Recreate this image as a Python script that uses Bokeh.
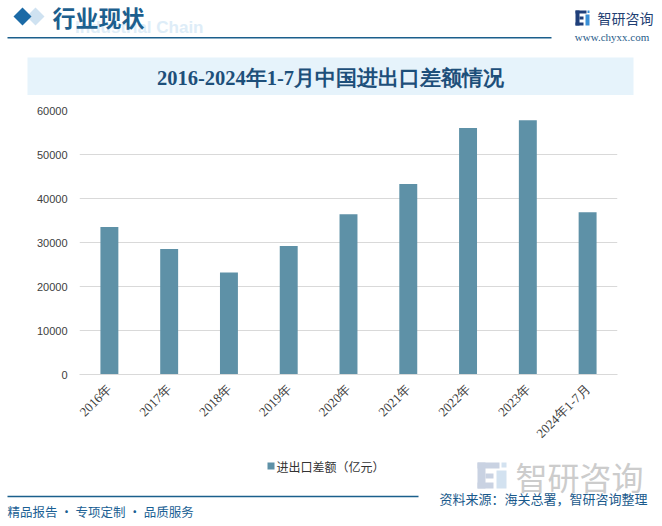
import math
from bokeh.plotting import figure
from bokeh.layouts import column, row
from bokeh.models import ColumnDataSource, Range1d, FixedTicker
from bokeh.core.properties import value
from bokeh.embed import file_html
from bokeh.resources import INLINE

# ---- data ----
categories = ["2016年", "2017年", "2018年", "2019年", "2020年", "2021年",
              "2022年", "2023年", "2024年1-7月"]
balance = [33500, 28500, 23200, 29200, 36400, 43300, 56000, 57800, 36900]
y_ticks = [0, 10000, 20000, 30000, 40000, 50000, 60000]
series_name = "进出口差额（亿元）"
title_text = "2016-2024年1-7月中国进出口差额情况"
header_text = "行业现状"
header_watermark = "Industrial Chain"
brand = "智研咨询"
site = "www.chyxx.com"
source_text = "资料来源：海关总署，智研咨询整理"
slogan = "精品报告 · 专项定制 · 品质服务"

W = 662
HEADER_H = 95
MAIN_TOP, MAIN_BOTTOM = 95, 450
TOTAL_H = 526

CJK = "Noto Sans CJK SC"
SERIF = "Liberation Serif"
SANS = "Liberation Sans"
BAR_COLOR = "#5e91a7"


def canvas_fig(y0, y1):
    f = figure(width=W, height=y1 - y0, x_range=Range1d(0, W), y_range=Range1d(y1, y0),
               output_backend="svg", toolbar_location=None, tools="",
               x_axis_location=None, y_axis_location=None, min_border=0,
               min_border_left=0, min_border_right=0, min_border_top=0,
               min_border_bottom=0)
    f.outline_line_color = None
    f.grid.grid_line_color = None
    f.background_fill_color = "white"
    f.border_fill_color = "white"
    return f


def rect(f, x0, y0, x1, y1, color):
    f.quad(left=[x0], right=[x1], top=[y0], bottom=[y1], fill_color=color, line_color=None)


def poly(f, pts, color):
    f.patch(x=[a for a, b in pts], y=[b for a, b in pts], fill_color=color, line_color=None)


def txt(f, x, y, t, size, color, font=CJK, align="left", baseline="middle", style="normal"):
    f.text(x=[x], y=[y], text=[t], text_font=value(font), text_font_size=value(size),
           text_color=color, text_align=align, text_baseline=baseline,
           text_font_style=style)


# ---- header ----
hdr = canvas_fig(0, HEADER_H)
poly(hdr, [(26, 16), (35, 7), (44, 16), (35, 25)], "#cfe2f1")
poly(hdr, [(13, 16), (22, 7), (31, 16), (22, 25)], "#1b6aa6")
txt(hdr, 203, 27, header_watermark, "17px", "#deedf8", font=SANS, align="right",
    baseline="alphabetic", style="bold")
txt(hdr, 52, 16, header_text, "23px", "#1d5f8e", style="bold")
rect(hdr, 7, 36.5, 551, 38, "#1b5f8c")
# logo
rect(hdr, 575, 10, 586, 13, "#1f3f7a")
rect(hdr, 575, 10, 579, 25, "#1f3f7a")
rect(hdr, 579, 16, 583, 19, "#1f3f7a")
rect(hdr, 575, 22, 583, 25, "#1f3f7a")
rect(hdr, 585, 14, 589, 25, "#3a8fd6")
rect(hdr, 587, 10, 589, 12.5, "#3a8fd6")
txt(hdr, 597, 17.5, brand, "14px", "#1f3f73")
txt(hdr, 611.5, 36.5, site, "11px", "#2a5d8a", font=SERIF, align="center")
# title band
rect(hdr, 27, 57, 633, 95, "#e6f3fb")
txt(hdr, 330, 77, title_text, "20.5px", "#1d4f7a", font=SERIF, align="center", style="bold")

# ---- main chart ----
FL, FR = 79, W - 617
FT = 110 - MAIN_TOP
FB = MAIN_BOTTOM - 374
p = figure(width=W, height=MAIN_BOTTOM - MAIN_TOP, x_range=categories,
           y_range=Range1d(0, 60000), output_backend="svg", toolbar_location=None,
           tools="", min_border_left=FL, min_border_right=FR, min_border_top=FT,
           min_border_bottom=FB)
p.outline_line_color = None
p.background_fill_color = "white"
p.border_fill_color = "white"

src = ColumnDataSource(dict(cat=categories, val=balance))
p.vbar(x="cat", top="val", width=0.3, source=src, fill_color=BAR_COLOR, line_color=None)

p.xgrid.grid_line_color = None
p.ygrid.grid_line_color = "#d9d9d9"
p.ygrid.grid_line_width = 1
p.yaxis.ticker = FixedTicker(ticks=y_ticks)
p.yaxis.axis_line_color = None
p.yaxis.major_tick_line_color = None
p.yaxis.minor_tick_line_color = None
p.yaxis.major_tick_out = 0
p.yaxis.major_label_standoff = 12
p.yaxis.major_label_text_font = SANS
p.yaxis.major_label_text_font_size = "11px"
p.yaxis.major_label_text_color = "#404040"

p.xaxis.axis_line_color = "#d9d9d9"
p.xaxis.major_tick_line_color = None
p.xaxis.minor_tick_line_color = None
p.xaxis.major_tick_out = 0
p.xaxis.major_label_standoff = 12
p.xaxis.major_label_orientation = math.pi / 4
p.xaxis.major_label_text_font = SERIF
p.xaxis.major_label_text_font_size = "13px"
p.xaxis.major_label_text_color = "#404040"
p.x_range.range_padding = 0

# ---- footer ----
ftr = canvas_fig(MAIN_BOTTOM, TOTAL_H)
# legend
rect(ftr, 267, 462, 274, 469, BAR_COLOR)
txt(ftr, 276, 465.5, series_name, "12px", "#333333")
# watermark logo
rect(ftr, 477, 462, 499, 468, "#c9d2e2")
rect(ftr, 477, 462, 485, 488, "#c9d2e2")
rect(ftr, 485, 473, 493, 478, "#c9d2e2")
rect(ftr, 477, 482, 493, 488, "#c9d2e2")
rect(ftr, 496, 470, 506, 488, "#d3e2f0")
rect(ftr, 501, 462, 506, 467, "#d3e2f0")
txt(ftr, 515, 475, brand, "32px", "#cccccc")
# footer line + texts
rect(ftr, 7, 495.3, 418, 496.8, "#1b5f8c")
txt(ftr, 439, 497.5, source_text, "13px", "#1a5a8c")
txt(ftr, 7, 511, slogan, "12.5px", "#1a5f94")

layout = column(row(hdr), row(p), row(ftr), spacing=0)
open("out.html", "w").write(file_html(layout, INLINE))
